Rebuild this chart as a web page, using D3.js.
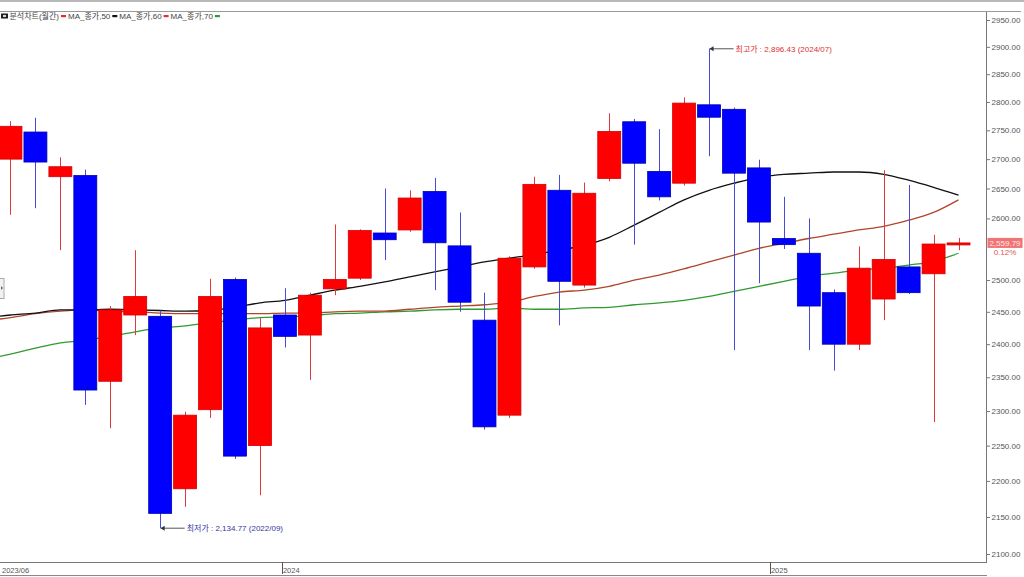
<!DOCTYPE html>
<html><head><meta charset="utf-8">
<script src="https://cdn.jsdelivr.net/npm/d3@7/dist/d3.min.js"></script>
<style>
body{margin:0;background:#fff;overflow:hidden}
svg{display:block}
text{font-family:"Liberation Sans","Noto Sans CJK KR",Arial,sans-serif}
</style>
</head><body>
<svg id="c" width="1024" height="577"></svg>
<script>
// ---------- data ----------
const months = ["2022/02","2022/03","2022/04","2022/05","2022/06","2022/07","2022/08","2022/09","2022/10","2022/11","2022/12",
  "2023/01","2023/02","2023/03","2023/04","2023/05","2023/06","2023/07","2023/08","2023/09","2023/10","2023/11","2023/12",
  "2024/01","2024/02","2024/03","2024/04","2024/05","2024/06","2024/07","2024/08","2024/09","2024/10","2024/11","2024/12",
  "2025/01","2025/02","2025/03","2025/04","2025/05"];
const openV  = [2663,2700,2747,2670,2672,2344,2445,2443,2189,2302,2501,2250,2445,2414,2486,2503,2576,2581,2645,2555,2437,2294,2521,2647,2492,2667,2765,2679,2659,2795,2787,2685,2567,2543,2480,2400,2470,2521,2510,2557];
const highV  = [2750,2766,2772,2703,2682,2459,2548,2452,2299,2502,2504,2440,2487,2480,2590,2582,2650,2647,2668,2610,2480,2538,2670,2673,2660,2780,2770,2752,2808,2896.43,2790,2699,2636,2600,2485,2554,2681,2656,2573,2568];
const lowV   = [2591,2606,2617,2548,2309,2275,2414,2134.77,2164,2290,2231,2180,2395,2346,2476,2500,2532,2578,2484,2450,2273,2290,2518,2429,2488,2662,2557,2630,2655,2705,2391,2495,2550,2391,2360,2391,2437,2478,2284,2548];
const closeV = [2699,2757,2695,2687,2331,2453,2474,2155,2294,2474,2235,2425,2412,2476,2501,2580,2565,2634,2560,2465,2277,2535,2657,2498,2642,2748,2693,2636,2798,2773,2676,2594,2557,2459,2400,2519,2533,2480,2558,2559.79];
const ma50 = [2441,2445,2448,2453,2453,2454,2453,2452,2451,2452,2457,2464,2468,2476,2484,2490,2497,2505,2513,2521,2529,2535,2541,2548,2556,2569,2589,2610,2631,2647,2659,2669,2674,2676,2678,2678,2674,2664,2652,2639];
const ma60 = [2436,2441,2447,2451,2453,2451,2450,2448,2447,2447,2447,2447,2448,2448,2450,2451,2451,2454,2457,2459,2461,2465,2474,2481,2484,2490,2500,2508,2518,2529,2540,2551,2559,2567,2574,2581,2587,2597,2610,2631];
const ma70 = [2377,2385,2394,2402,2406,2412,2419,2425,2428,2433,2437,2441,2442,2444,2447,2448,2450,2451,2453,2454,2454,2456,2454,2454,2456,2457,2461,2464,2468,2474,2482,2490,2498,2506,2511,2516,2519,2524,2530,2543];
const yTicks = [2100,2150,2200,2250,2300,2350,2400,2450,2500,2600,2650,2700,2750,2800,2850,2900,2950];
const xTickLabels = ["2023/06","2024","2025"];
const xTickIndex  = [0.62, 11.88, 31.44];
const tickShown   = [false, true, true];
const legendItems = ["MA_종가,50","MA_종가,60","MA_종가,70"];
const titleText = "분석차트(월간)";
const highNote = "최고가 : 2,896.43 (2024/07)";
const lowNote  = "최저가 : 2,134.77 (2022/09)";
const lastPrice = "2,559.79", lastChange = "0.12%";

// ---------- layout ----------
const svg = d3.select("#c");
const W = 1024, H = 577;
const plotR = 986, plotB = 562, plotT = 12;

const x = d3.scaleBand().domain(months).range([-26.95, 971]).paddingInner(0.08).paddingOuter(0.04);
const bw = x.bandwidth();
const cx = m => x(m) + bw / 2;
const xi = d3.scaleLinear().domain([0, months.length - 1]).range([cx(months[0]), cx(months[months.length - 1])]);
const y = d3.scaleLog().domain([2100, 2950]).range([554, 20]);

const data = months.map((m, i) => ({m, o: openV[i], h: highV[i], l: lowV[i], c: closeV[i]}));

// frame
svg.append("rect").attr("x", 0).attr("y", 0).attr("width", W).attr("height", 2).attr("fill", "#b8b8b8");
svg.append("line").attr("x1", 0).attr("x2", 1021).attr("y1", 11.5).attr("y2", 11.5).attr("stroke", "#9a9a9a");

const plot = svg.append("g");
plot.append("clipPath").attr("id", "clip").append("rect").attr("x", 0).attr("y", plotT).attr("width", plotR).attr("height", plotB - plotT);
const g = plot.append("g").attr("clip-path", "url(#clip)");

// MA lines
const line = d3.line().x((d, i) => xi(i)).y(d => y(d)).curve(d3.curveMonotoneX);
[[ma70, "#2f9a2f"], [ma60, "#b0452a"], [ma50, "#111"]].forEach(([arr, col]) => {
  g.append("path").attr("d", line(arr)).attr("fill", "none").attr("stroke", col).attr("stroke-width", 1.3);
});

// candles
const red = "#ff0000", blue = "#0000ff";
const cg = g.selectAll("g.candle").data(data).join("g").attr("class", "candle");
cg.append("line")
  .attr("x1", d => Math.round(cx(d.m)) + 0.5).attr("x2", d => Math.round(cx(d.m)) + 0.5)
  .attr("y1", d => y(d.h)).attr("y2", d => y(d.l))
  .attr("stroke", d => d.c >= d.o ? "#e23a3a" : "#4a4ad8").attr("stroke-width", 1);
cg.append("rect")
  .attr("x", d => x(d.m)).attr("width", bw)
  .attr("y", d => y(Math.max(d.o, d.c)))
  .attr("height", d => Math.max(2, Math.abs(y(d.o) - y(d.c))))
  .attr("fill", d => d.c >= d.o ? red : blue)
  .attr("stroke", d => d.c >= d.o ? "#d40000" : "#0000b0").attr("stroke-width", 0.8);

// annotations
function note(idx, val, text, col) {
  const x0 = xi(idx) + 0.5, yy = y(val);
  g.append("line").attr("x1", x0).attr("x2", x0 + 24).attr("y1", yy).attr("y2", yy).attr("stroke", "#555").attr("stroke-width", 1);
  g.append("path").attr("d", `M${x0},${yy} l4,-2.5 l0,5 z`).attr("fill", "#333");
  g.append("text").attr("x", x0 + 26).attr("y", yy).attr("dy", "0.35em").attr("font-size", 8).attr("fill", col).text(text);
}
note(months.indexOf("2024/07"), 2896.43, highNote, "#e03030");
note(months.indexOf("2022/09"), 2134.77, lowNote, "#3535a5");

// legend
const lg = svg.append("g");
lg.append("rect").attr("x", 1).attr("y", 13.5).attr("width", 7).attr("height", 5).attr("fill", "#222");
lg.append("rect").attr("x", 3).attr("y", 15).attr("width", 3).attr("height", 2).attr("fill", "#ddd");
let lx = 9.5;
const t0 = lg.append("text").attr("x", lx).attr("y", 16).attr("dy", "0.35em").attr("font-size", 8).attr("fill", "#444").text(titleText);
lx += t0.node().getComputedTextLength() + 2;
const swatches = ["#ff2020", "#111", "#e03030", "#2f9a2f"];
lg.append("rect").attr("x", lx).attr("y", 15).attr("width", 5).attr("height", 2.2).attr("fill", swatches[0]);
lx += 7;
legendItems.forEach((s, i) => {
  const t = lg.append("text").attr("x", lx).attr("y", 16).attr("dy", "0.35em").attr("font-size", 8).attr("fill", "#444").text(s);
  lx += t.node().getComputedTextLength() + 2;
  lg.append("rect").attr("x", lx).attr("y", 15).attr("width", 5).attr("height", 2.2).attr("fill", swatches[i + 1]);
  lx += 7;
});

// right axis
const ya = svg.append("g").attr("transform", `translate(${plotR},0)`)
  .call(d3.axisRight(y).tickValues(yTicks).tickSize(4).tickPadding(1.5).tickFormat(d3.format(".2f")));
ya.select(".domain").remove();
ya.selectAll("line").attr("stroke", "#777");
ya.selectAll("text").attr("font-size", 8).attr("fill", "#555").attr("font-family", "Liberation Sans, Arial, sans-serif");
svg.append("line").attr("x1", plotR + 0.5).attr("x2", plotR + 0.5).attr("y1", plotT).attr("y2", plotB).attr("stroke", "#777");

// last price label
const yl = y(closeV[closeV.length - 1]);
svg.append("rect").attr("x", 987.5).attr("y", yl - 5).attr("width", 35).attr("height", 10).attr("fill", "#f07474");
svg.append("text").attr("x", 1005).attr("y", yl).attr("dy", "0.35em").attr("text-anchor", "middle").attr("font-size", 8).attr("fill", "#fde6e6").text(lastPrice);
svg.append("text").attr("x", 1005).attr("y", yl + 9).attr("dy", "0.35em").attr("text-anchor", "middle").attr("font-size", 8).attr("fill", "#e05555").text(lastChange);

// bottom axis strip
svg.append("line").attr("x1", 0).attr("x2", plotR + 1).attr("y1", plotB + 0.5).attr("y2", plotB + 0.5).attr("stroke", "#777");
svg.append("line").attr("x1", 0).attr("x2", plotR + 1).attr("y1", 575.5).attr("y2", 575.5).attr("stroke", "#888");
const xa = svg.append("g");
xTickLabels.forEach((lab, i) => {
  const px = xi(xTickIndex[i]);
  if (tickShown[i]) {
    xa.append("line").attr("x1", Math.round(px) + 0.5).attr("x2", Math.round(px) + 0.5).attr("y1", plotB).attr("y2", 574).attr("stroke", "#555");
  }
  xa.append("text").attr("x", px + 1).attr("y", 570).attr("dy", "0.35em").attr("font-size", 7.5).attr("fill", "#555").text(lab);
});

// left small handle
svg.append("rect").attr("x", -1).attr("y", 278.5).attr("width", 5).attr("height", 20).attr("fill", "#f2f2f2").attr("stroke", "#aaa");
svg.append("path").attr("d", "M1,286 l2,2 l-2,2 z").attr("fill", "#666");
</script>
</body></html>
